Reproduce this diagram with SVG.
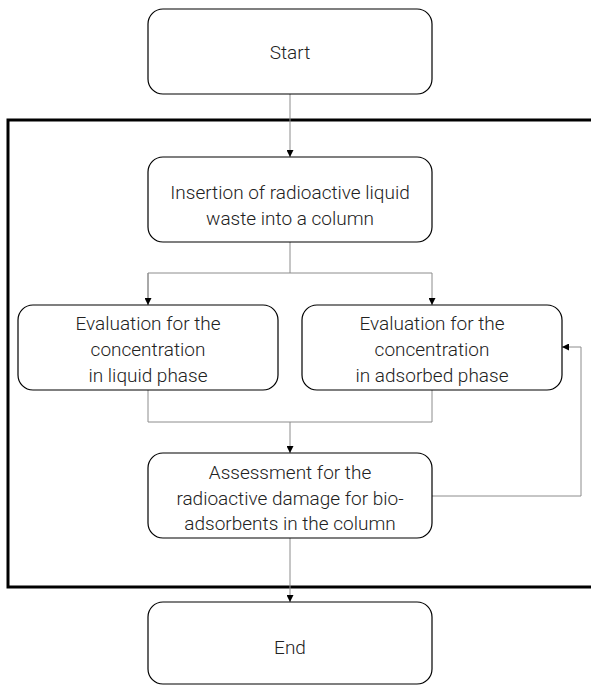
<svg xmlns="http://www.w3.org/2000/svg" width="591" height="685" viewBox="0 0 591 685">
<defs>
<style>
.node{fill:#fff;stroke:#000;stroke-width:1.2}
.frame{fill:none;stroke:#000;stroke-width:3}
.conn{fill:none;stroke:#8c8c8c;stroke-width:1}
text{font-family:Roboto,"Liberation Sans",sans-serif;font-weight:300;font-size:19px;fill:#222;text-anchor:middle}
</style>
<marker id="arr" viewBox="0 0 8 8" refX="8" refY="4" markerWidth="7" markerHeight="7" orient="auto" markerUnits="userSpaceOnUse">
<path d="M0,0 L8,4 L0,8 z" fill="#000"/>
</marker>
</defs>
<rect fill="#fff" x="0" y="0" width="591" height="685"/>
<path class="frame" d="M595,120 L8,120 L8,587 L595,587"/>
<g id="connectors">
<path class="conn" d="M290,94 L290,157" marker-end="url(#arr)"/>
<path class="conn" d="M290,242 L290,273"/>
<path class="conn" d="M148,305 L148,273 L432,273 L432,305" marker-end="url(#arr)"/>
<path class="conn" d="M148,273 L148,305" marker-end="url(#arr)"/>
<path class="conn" d="M148,390 L148,422 L432,422 L432,390"/>
<path class="conn" d="M290,422 L290,453" marker-end="url(#arr)"/>
<path class="conn" d="M432,496 L581,496 L581,347 L562,347" marker-end="url(#arr)"/>
<path class="conn" d="M290,538 L290,602" marker-end="url(#arr)"/>
</g>
<g id="start">
<rect class="node" x="148" y="9" width="284" height="85" rx="15"/>
<text x="290" y="59">Start</text>
</g>
<g id="insertion">
<rect class="node" x="148" y="157" width="284" height="85" rx="15"/>
<text x="290" y="199">Insertion of radioactive liquid</text>
<text x="290" y="225">waste into a column</text>
</g>
<g id="eval-liquid">
<rect class="node" x="18" y="305" width="260" height="85" rx="15"/>
<text x="148" y="330">Evaluation for the</text>
<text x="148" y="356">concentration</text>
<text x="148" y="382">in liquid phase</text>
</g>
<g id="eval-adsorbed">
<rect class="node" x="302" y="305" width="260" height="85" rx="15"/>
<text x="432" y="330">Evaluation for the</text>
<text x="432" y="356">concentration</text>
<text x="432" y="382">in adsorbed phase</text>
</g>
<g id="assessment">
<rect class="node" x="148" y="453" width="284" height="85" rx="15"/>
<text x="290" y="479">Assessment for the</text>
<text x="290" y="505">radioactive damage for bio-</text>
<text x="290" y="530">adsorbents in the column</text>
</g>
<g id="end">
<rect class="node" x="148" y="602" width="284" height="82" rx="15"/>
<text x="290" y="654">End</text>
</g>
</svg>
